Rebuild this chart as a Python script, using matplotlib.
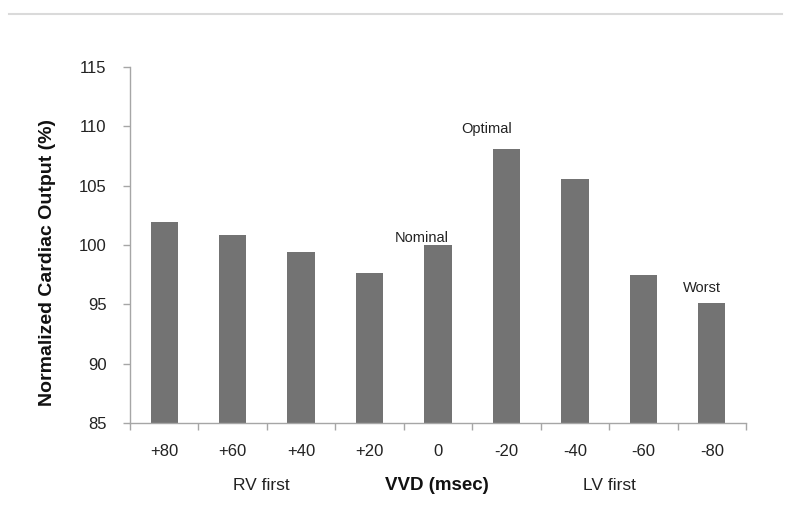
import numpy as np
import matplotlib.pyplot as plt
from matplotlib.lines import Line2D

plt.rcParams['font.family'] = ['Liberation Sans', 'DejaVu Sans']

delays = ['+80', '+60', '+40', '+20', '0', '-20', '-40', '-60', '-80']
output = [101.9, 100.8, 99.45, 97.65, 100.0, 108.1, 105.6, 97.5, 95.15]
notes = {4: 'Nominal', 5: 'Optimal', 8: 'Worst'}
# label placement: (shift in category units, lift in points)
note_place = {4: (-0.24, 2.5), 5: (-0.285, 11.5), 8: (-0.14, 7.5)}

fig = plt.figure(figsize=(8, 5.05), dpi=100)
ax = fig.add_axes([0.1625, 0.1624, 0.77, 0.705])

x = np.arange(len(delays))
ax.bar(x, output, width=0.4, color='#737373', zorder=2)

for i, label in notes.items():
    dx, dy = note_place[i]
    ax.annotate(label, (x[i] + dx, output[i]), xytext=(0, dy),
                textcoords='offset points', ha='center', va='baseline',
                fontsize=10.5, color='#222222')

ax.set_xlim(-0.5, len(delays) - 0.5)
ax.set_ylim(85, 115)
ax.set_yticks(np.arange(85, 116, 5))
ax.set_xticks(x)
ax.set_xticklabels(delays)
ax.set_xticks(np.arange(-0.5, len(delays)), minor=True)

grey = '#a6a6a6'
for side in ['top', 'right']:
    ax.spines[side].set_visible(False)
for side in ['left', 'bottom']:
    ax.spines[side].set_color(grey)
    ax.spines[side].set_linewidth(1.0)

ax.tick_params(axis='x', which='major', length=0, pad=15, labelsize=12, labelcolor='#222222')
ax.tick_params(axis='x', which='minor', length=5, color=grey, width=1)
ax.tick_params(axis='y', length=5, color=grey, width=1, pad=12, labelsize=12, labelcolor='#222222')

fig.text(48 / 800, 1 - 262 / 505, 'Normalized Cardiac Output (%)', rotation=90,
         ha='center', va='center', fontsize=14, fontweight='bold', color='#111111')

fig.text(261 / 800, 1 - 486 / 505, 'RV first', ha='center', va='center', fontsize=12.5, color='#222222')
fig.text(437 / 800, 1 - 486 / 505, 'VVD (msec)', ha='center', va='center', fontsize=13.5,
         fontweight='bold', color='#111111')
fig.text(609 / 800, 1 - 486 / 505, 'LV first', ha='center', va='center', fontsize=12.5, color='#222222')

fig.add_artist(Line2D([9 / 800, 782 / 800], [1 - 14 / 505, 1 - 14 / 505],
                      transform=fig.transFigure, color='#dadada', linewidth=1.5))

fig.savefig('out.png', dpi=100)
